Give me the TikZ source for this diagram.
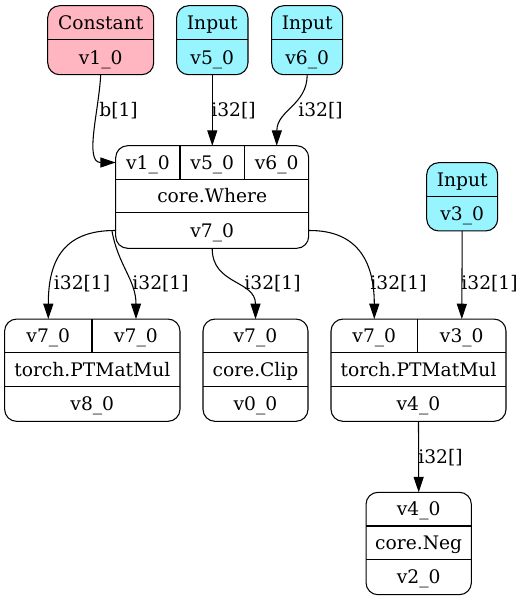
\documentclass[tikz,border=0pt]{standalone}
\usepackage{fontspec}
\setmainfont{DejaVu Serif}
\usetikzlibrary{arrows.meta}
\definecolor{pinkc}{HTML}{FFB6C1}
\definecolor{cyanc}{HTML}{98F5FF}
\tikzset{
  rec/.style={draw=black, line width=0.8pt, rounded corners=9pt, inner sep=0pt, outer sep=0pt, fill=white},
  div/.style={draw=black, line width=0.8pt},
  txt/.style={inner sep=0pt, text height=10.2pt, text depth=0pt, font=\fontsize{14pt}{16pt}\selectfont},
  lbl/.style={txt},
  edge/.style={line width=0.8pt, -{Triangle[length=11.5pt,width=7.5pt]}},
}
\begin{document}
\begin{tikzpicture}[x=0.75pt,y=-0.75pt]
\useasboundingbox (0,0) rectangle (530,601);

% ---- Constant
\node[rec, fill=pinkc, minimum width=79.5pt, minimum height=51.75pt] (const) at (100.7,40.2) {};
\draw[div] (47.7,39.7) -- (153.7,39.7);
\node[txt] (constA) at (100.7,22.7) {Constant};
\node[txt] (constB) at (100.7,57.2) {v1\_0};

% ---- Input v5_0
\node[rec, fill=cyanc, minimum width=53.5pt, minimum height=51.75pt] (in5) at (212.3,40.2) {};
\draw[div] (176.7,39.7) -- (248,39.7);
\node[txt] (in5A) at (212.3,22.7) {Input};
\node[txt] (in5B) at (212.3,57.2) {v5\_0};

% ---- Input v6_0
\node[rec, fill=cyanc, minimum width=53.25pt, minimum height=51.75pt] (in6) at (307.2,40.2) {};
\draw[div] (271.7,39.7) -- (342.7,39.7);
\node[txt] (in6A) at (307.2,22.7) {Input};
\node[txt] (in6B) at (307.2,57.2) {v6\_0};

% ---- core.Where
\node[rec, minimum width=144.75pt, minimum height=76.95pt] (where) at (212.2,197) {};
\draw[div] (115.7,179.3) -- (308.7,179.3);
\draw[div] (115.7,212.7) -- (308.7,212.7);
\draw[div] (180,145.7) -- (180,179.3);
\draw[div] (244.7,145.7) -- (244.7,179.3);
\node[txt] (wh1) at (147.9,162.5) {v1\_0};
\node[txt] (wh2) at (212.3,162.5) {v5\_0};
\node[txt] (wh3) at (276.7,162.5) {v6\_0};
\node[txt] (whop) at (212.2,196) {core.Where};
\node[txt] (whout) at (212.2,230.5) {v7\_0};

% ---- Input v3_0
\node[rec, fill=cyanc, minimum width=53.25pt, minimum height=51.2pt] (in3) at (462.2,196.8) {};
\draw[div] (426.7,196.7) -- (497.7,196.7);
\node[txt] (in3A) at (462.2,179.7) {Input};
\node[txt] (in3B) at (462.2,213.8) {v3\_0};

% ---- torch.PTMatMul (left)
\node[rec, minimum width=131.5pt, minimum height=76.7pt] (mml) at (92.3,370.2) {};
\draw[div] (4.7,352.3) -- (180,352.3);
\draw[div] (4.7,386.3) -- (180,386.3);
\draw[div] (92,319) -- (92,352.3);
\node[txt] (mml1) at (48.3,335.7) {v7\_0};
\node[txt] (mml2) at (136,335.7) {v7\_0};
\node[txt] (mmlop) at (92.3,369.3) {torch.PTMatMul};
\node[txt] (mmlout) at (92.3,403.8) {v8\_0};

% ---- core.Clip
\node[rec, minimum width=78.75pt, minimum height=76.7pt] (clip) at (255.5,370.2) {};
\draw[div] (203,352.3) -- (308,352.3);
\draw[div] (203,386.3) -- (308,386.3);
\node[txt] (clip1) at (255.5,335.7) {v7\_0};
\node[txt] (clipop) at (255.5,369.3) {core.Clip};
\node[txt] (clipout) at (255.5,403.8) {v0\_0};

% ---- torch.PTMatMul (right)
\node[rec, minimum width=131.25pt, minimum height=76.7pt] (mmr) at (418.5,370.2) {};
\draw[div] (331,352.3) -- (506,352.3);
\draw[div] (331,386.3) -- (506,386.3);
\draw[div] (417.7,319) -- (417.7,352.3);
\node[txt] (mmr1) at (374.3,335.7) {v7\_0};
\node[txt] (mmr2) at (461.8,335.7) {v3\_0};
\node[txt] (mmrop) at (418.5,369.3) {torch.PTMatMul};
\node[txt] (mmrout) at (418.5,403.8) {v4\_0};

% ---- core.Neg
\node[rec, minimum width=79pt, minimum height=76.8pt] (neg) at (418.7,543.5) {};
\draw[div] (366,526) -- (471.3,526);
\draw[div] (366,559.7) -- (471.3,559.7);
\node[txt] (neg1) at (418.7,509) {v4\_0};
\node[txt] (negop) at (418.7,543) {core.Neg};
\node[txt] (negout) at (418.7,577) {v2\_0};

% ---- port coordinates
\coordinate (whP1) at (where.west |- wh1);
\coordinate (whP2) at (wh2 |- where.north);
\coordinate (whP3) at (wh3 |- where.north);
\coordinate (whOL) at (where.west |- whout);
\coordinate (whOL2) at (112,231);
\coordinate (whOR) at (where.east |- whout);
\coordinate (mmlP1) at (mml1 |- mml.north);
\coordinate (mmlP2) at (mml2 |- mml.north);
\coordinate (clipP1) at (clip1 |- clip.north);
\coordinate (mmrP1) at (mmr1 |- mmr.north);
\coordinate (mmrP2) at (mmr2 |- mmr.north);
\coordinate (mmrO) at (mmrout |- mmr.south);
\coordinate (negP1) at (neg1 |- neg.north);

% ---- edges
\draw[edge] (const.south) .. controls (99,110) and (84,162.5) .. (whP1);
\draw[edge] (in5.south) -- (whP2);
\draw[edge] (in6.south) .. controls (307.2,105) and (277,110) .. (whP3);
\draw[edge] (whOL) .. controls (60,230) and (48.3,265) .. (mmlP1);
\draw[edge] (whOL2) .. controls (118,265) and (136,280) .. (mmlP2);
\draw[edge] (where.south) .. controls (212,285) and (255.5,280) .. (clipP1);
\draw[edge] (whOR) .. controls (360,230) and (374.3,265) .. (mmrP1);
\draw[edge] (in3.south) -- (mmrP2);
\draw[edge] (mmrO) -- (negP1);

% ---- edge labels
\node[lbl] (l1) at (118.5,110) {b[1]};
\node[lbl] (l2) at (233.5,110) {i32[]};
\node[lbl] (l3) at (320.5,110) {i32[]};
\node[lbl] (l4) at (82,283) {i32[1]};
\node[lbl] (l5) at (160.5,283) {i32[1]};
\node[lbl] (l6) at (272.5,283) {i32[1]};
\node[lbl] (l7) at (398.5,283) {i32[1]};
\node[lbl] (l8) at (489.5,283) {i32[1]};
\node[lbl] (l9) at (440.5,456.7) {i32[]};
\end{tikzpicture}
\end{document}
